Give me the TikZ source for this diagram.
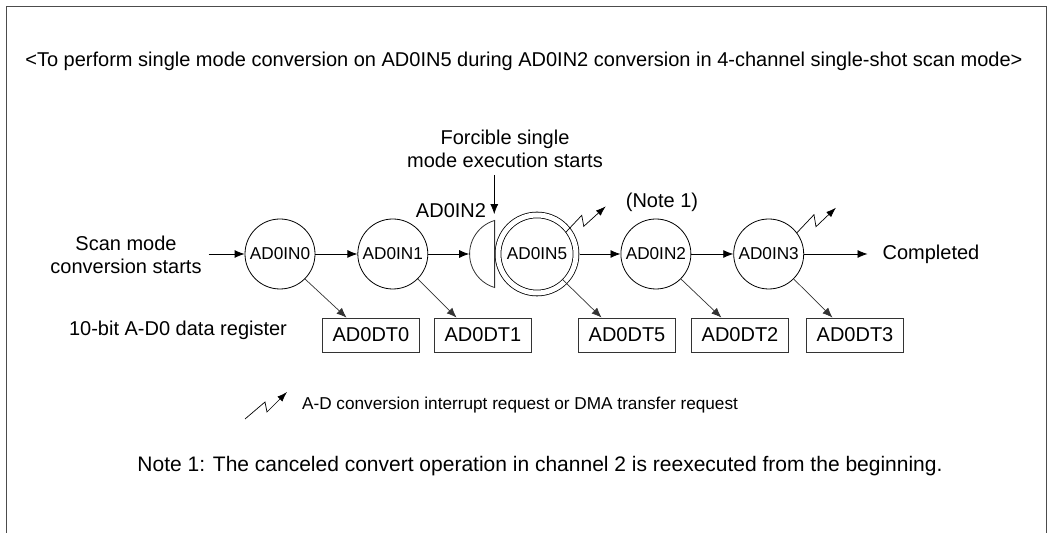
\documentclass[tikz,border=0pt]{standalone}
\usepackage{fontspec}
\setmainfont{Liberation Sans}
\usetikzlibrary{arrows.meta, positioning, calc}

\begin{document}
\begin{tikzpicture}[
    x=0.5pt, y=-0.5pt,
    every node/.style={font=\fontsize{10}{11.5}\selectfont},
    chan/.style={circle, draw, minimum size=35pt, inner sep=0pt, font=\fontsize{8.6}{10}\selectfont},
    reg/.style={rectangle, draw, black!80, text=black, minimum width=48.5pt, minimum height=17pt, inner sep=0pt},
    arrow/.style={-{Latex[length=5pt, width=4pt]}},
    store/.style={-{Latex[length=5pt, width=4pt]}, black!80, line width=0.35pt},
    irq/.style={-{Latex[length=5pt, width=3.5pt]}, line width=0.35pt}
]
    \useasboundingbox (0,0) rectangle (1050,533);
    \draw[black!70] (6,533) -- (6,6) -- (1046,6) -- (1046,533);
    \node (title) at (524,61) {<To perform single mode conversion on AD0IN5 during AD0IN2 conversion in 4-channel single-shot scan mode>};

    \node[chan] (ad0in0) at (280,254) {AD0IN0};
    \node[chan, right=21pt of ad0in0] (ad0in1) {AD0IN1};
    \node[circle, minimum size=35pt, inner sep=0pt, right=20.5pt of ad0in1] (ad0in2a) {};
    \node[chan, double, double distance=2.5pt, minimum size=39pt, outer sep=1.75pt] (ad0in5) at (537,254) {AD0IN5};
    \node[chan, right=20.5pt of ad0in5] (ad0in2b) {AD0IN2};
    \node[chan, right=21pt of ad0in2b] (ad0in3) {AD0IN3};
    \draw[black!80] (ad0in2a.center) ++(106.6:17.5pt) arc[start angle=106.6, end angle=253.4, radius=17.5pt] -- cycle;

    \node[align=center] (scan) at (126,255) {Scan mode\\conversion starts};
    \node (done) at (931,254) {Completed};
    \node (lbl2) at (451,211) {AD0IN2};
    \node (note1) at (662,202) {(Note 1)};
    \node[align=center] (forc) at (505,149) {Forcible single\\mode execution starts};

    \draw[arrow] (scan.east |- ad0in0) -- (ad0in0);
    \draw[arrow] (ad0in0) -- (ad0in1);
    \draw[arrow] (ad0in1) -- (ad0in2a);
    \draw[arrow] (ad0in5) -- (ad0in2b);
    \draw[arrow] (ad0in2b) -- (ad0in3);
    \draw[arrow, shorten >=4pt] (ad0in3) -- (done);
    \draw[arrow, shorten >=3pt] (forc.south -| ad0in2a.107) -- (ad0in2a.107);

    \node[anchor=west] (regs) at (62,330) {10-bit A-D0 data register};
    \node[reg] (ad0dt0) at (371,335) {AD0DT0};
    \node[reg] (ad0dt1) at (483,335) {AD0DT1};
    \node[reg] (ad0dt5) at (627,335) {AD0DT5};
    \node[reg] (ad0dt2) at (740,335) {AD0DT2};
    \node[reg] (ad0dt3) at (855,335) {AD0DT3};
    \foreach \c/\r/\f in {ad0in0/ad0dt0/.25, ad0in1/ad0dt1/.23, ad0in2b/ad0dt2/.31, ad0in3/ad0dt3/.27}
        \draw[store] (\c.-45) -- ($(\r.north west)!\f!(\r.north east)$);
    \draw[store] ($(ad0in5.center)+(-45:18pt)$) -- ($(ad0dt5.north west)!.24!(ad0dt5.north east)$);

    \draw[irq] ($(ad0in5.center)+(37:18pt)$) -- ++(16,-17) -- ++(2,11) -- ++(22,-20);
    \draw[irq] (ad0in3.37) -- ++(17,-18) -- ++(2,12) -- ++(20,-19);

    \coordinate (lgnd) at (245,419);
    \draw[irq] (lgnd) -- ++(20,-17) -- ++(2,10) -- ++(20,-20);
    \node[anchor=west, font=\fontsize{8.6}{10}\selectfont] (lgndtxt) at (295,405) {A-D conversion interrupt request or DMA transfer request};
    \node[font=\fontsize{10.5}{12}\selectfont] (note) at (540,466) {Note 1: The canceled convert operation in channel 2 is reexecuted from the beginning.};
\end{tikzpicture}
\end{document}
